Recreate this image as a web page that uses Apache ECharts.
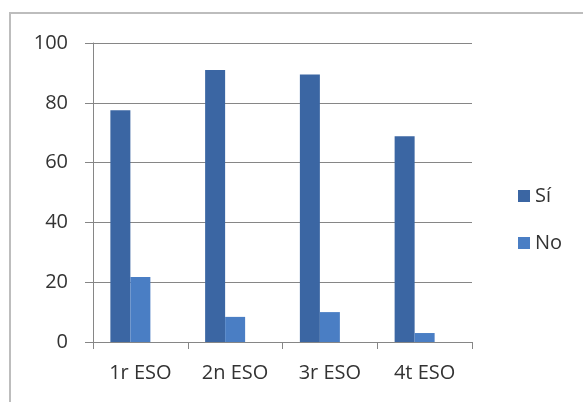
<!DOCTYPE html>
<html>
<head>
<meta charset="utf-8">
<script src="https://cdn.jsdelivr.net/npm/echarts@6/dist/echarts.min.js"></script>
<style>
html,body{margin:0;padding:0;background:#fff;}
#c{width:583px;height:402px;}
</style>
</head>
<body>
<div id="c"></div>
<script>
const categories = ['1r ESO', '2n ESO', '3r ESO', '4t ESO'];
const siValues = [77.5, 91, 89.5, 68.8];
const noValues = [21.7, 8.4, 10, 3];
const yTicks = { min: 0, max: 100, interval: 20 };
const seriesNames = ['Sí', 'No'];

const chart = echarts.init(document.getElementById('c'), null, { renderer: 'canvas' });
const font = 'Open Sans';
chart.setOption({
  animation: false,
  backgroundColor: '#fff',
  textStyle: { fontFamily: font },
  graphic: [{
    type: 'rect',
    shape: { x: 10, y: 13, width: 640, height: 460 },
    style: { fill: 'none', stroke: '#bdbdbd', lineWidth: 2 },
    silent: true, z: -10
  }],
  grid: { left: 93, right: 111, top: 43, bottom: 60, containLabel: false },
  legend: {
    data: seriesNames,
    orient: 'vertical',
    left: 513, top: 181,
    itemWidth: 12, itemHeight: 12, itemGap: 27,
    icon: 'rect',
    textStyle: { fontSize: 20, color: '#333', fontFamily: font }
  },
  xAxis: {
    type: 'category',
    data: categories,
    axisLine: { show: true, lineStyle: { color: '#868686', width: 1 } },
    axisTick: { show: true, length: 7, lineStyle: { color: '#868686' } },
    axisLabel: { fontSize: 20, color: '#333', margin: 21, fontFamily: font },
    splitLine: { show: false }
  },
  yAxis: {
    type: 'value',
    min: yTicks.min, max: yTicks.max, interval: yTicks.interval,
    axisLine: { show: true, lineStyle: { color: '#868686', width: 1 } },
    axisTick: { show: true, length: 8, lineStyle: { color: '#868686' } },
    axisLabel: { fontSize: 20, color: '#333', margin: 25, fontFamily: font },
    splitLine: { show: true, lineStyle: { color: '#868686', width: 1 } }
  },
  series: [
    { name: seriesNames[0], type: 'bar', data: siValues, barWidth: 20, barGap: '0%', itemStyle: { color: '#3B66A3' } },
    { name: seriesNames[1], type: 'bar', data: noValues, barWidth: 20, barGap: '0%', itemStyle: { color: '#4A7EC4' } },
    { name: 'spacer', type: 'bar', data: categories.map(() => '-'), barWidth: 20, barGap: '0%', itemStyle: { color: 'transparent' }, silent: true }
  ]
});
</script>
</body>
</html>
